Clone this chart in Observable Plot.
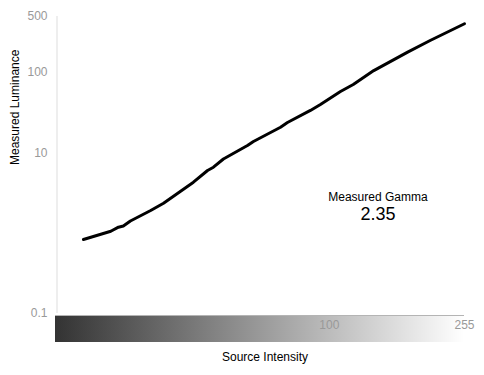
<!DOCTYPE html>
<html>
<head>
<meta charset="utf-8">
<script src="https://cdn.jsdelivr.net/npm/d3@7"></script>
<script src="https://cdn.jsdelivr.net/npm/@observablehq/plot@0.6"></script>
<style>
  html, body { margin: 0; padding: 0; background: #fff; }
</style>
</head>
<body>
<div id="chart"></div>
<script>
// Source intensity (0–255 scale, log axis) and measured luminance
const intensity = [18.2, 19.5, 22.0, 23.2, 24.0, 25.2, 29.0, 31.7, 34.9, 39.0, 43.0, 44.8, 48.0, 53.3, 56.7, 59.1, 71.3, 74.8, 87.7, 94.0, 108, 118, 136, 172, 201, 255];
const luminance = [0.835, 0.910, 1.059, 1.188, 1.230, 1.420, 1.918, 2.365, 3.12, 4.32, 6.04, 6.64, 8.40, 10.72, 12.37, 13.88, 20.9, 23.9, 33.8, 40.1, 58.2, 71.2, 106, 180, 251, 406];

const xTicks = [100, 255];
const yTicks = [0.1, 10, 100, 500];
const xDomain = [15, 255];
const yDomain = [0.1, 500];

const xLabel = "Source Intensity";
const yLabel = "Measured Luminance";
const gammaLabel = "Measured Gamma";
const gammaValue = "2.35";
const annotationAt = { label: [140, 2.5], value: [140, 1.44] };

const gradientStops = [["0%", "#333333"], ["100%", "#ffffff"]];

const data = intensity.map((v, i) => ({ v, L: luminance[i] }));

// Grey ramp under the x axis, positioned with the x scale
function gradientBar(index, scales, values, dimensions) {
  const g = d3.create("svg:g");
  const grad = g.append("defs").append("linearGradient")
    .attr("id", "srcGrad").attr("x1", 0).attr("x2", 1).attr("y1", 0).attr("y2", 0);
  gradientStops.forEach(([o, c]) => grad.append("stop").attr("offset", o).attr("stop-color", c));
  const x0 = scales.x(xDomain[0]), x1 = scales.x(xDomain[1]);
  const top = dimensions.height - dimensions.marginBottom + 2;
  g.append("rect")
    .attr("x", x0).attr("y", top + 1)
    .attr("width", x1 - x0).attr("height", 26)
    .attr("fill", "url(#srcGrad)");
  g.append("line")
    .attr("x1", x0).attr("x2", x1)
    .attr("y1", top + 0.5).attr("y2", top + 0.5)
    .attr("stroke", "#b4b4b4");
  return g.node();
}

// Y tick labels drawn with the y scale (the top tick sits exactly on the domain edge)
const yTickData = yTicks.map(t => ({ t }));

const chart = Plot.plot({
  width: 484,
  height: 375,
  marginLeft: 55,
  marginRight: 20,
  marginTop: 16,
  marginBottom: 62,
  style: { fontFamily: "'Liberation Sans', Arial, sans-serif", fontSize: "12px", background: "#fff", color: "#000" },
  x: { type: "log", domain: xDomain },
  y: { type: "log", domain: yDomain, axis: null },
  marks: [
    gradientBar,
    Plot.ruleX([xDomain[0]], { y1: yDomain[0], y2: yDomain[1], stroke: "#dddddd", dx: 1.5 }),
    Plot.axisX({ ticks: xTicks, tickSize: 0, tickPadding: 7, tickFormat: d => String(d), fill: "#999", label: null }),
    Plot.text(yTickData, { x: xDomain[0], y: "t", text: d => String(d.t), textAnchor: "end", dx: -8, fill: "#999", fontSize: 12 }),
    Plot.line(data, { x: "v", y: "L", stroke: "#000", strokeWidth: 3, strokeLinejoin: "round", strokeLinecap: "round" }),
    Plot.text([gammaLabel], { x: annotationAt.label[0], y: annotationAt.label[1], text: d => d, lineAnchor: "bottom", fontSize: 12, fill: "#000" }),
    Plot.text([gammaValue], { x: annotationAt.value[0], y: annotationAt.value[1], text: d => d, lineAnchor: "bottom", fontSize: 18, fill: "#000" }),
    Plot.text([yLabel], { text: d => d, frameAnchor: "left", dx: -40, rotate: -90, fill: "#000", fontSize: 12 }),
    Plot.text([xLabel], { text: d => d, frameAnchor: "bottom", dx: 5, dy: 47, lineAnchor: "bottom", fill: "#000", fontSize: 12 })
  ]
});

document.getElementById("chart").appendChild(chart);
</script>
</body>
</html>
